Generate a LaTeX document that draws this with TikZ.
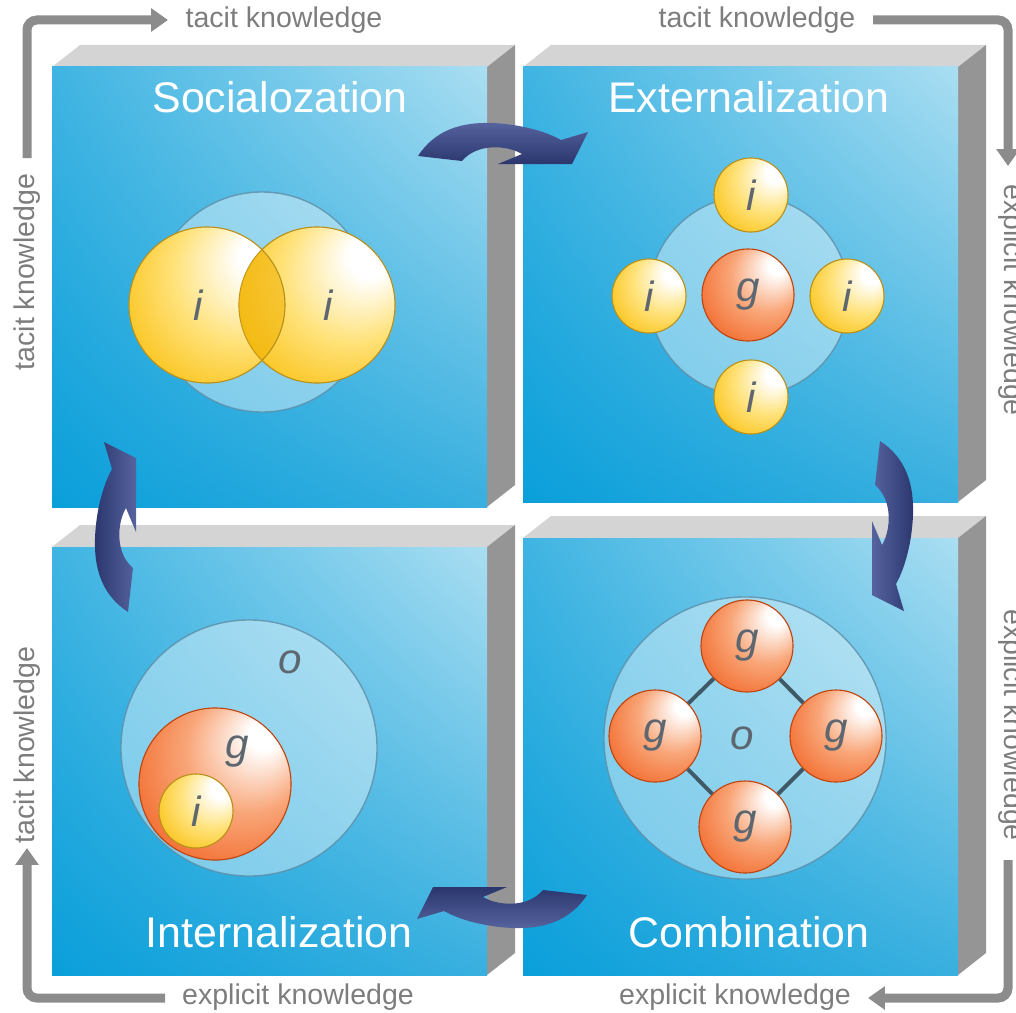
\documentclass[tikz,border=0pt]{standalone}
\usepackage{fontspec}
\setmainfont{Liberation Sans}
\usetikzlibrary{arrows.meta,shadings}

% Colours
\definecolor{faceLL}{HTML}{0A9FDA}
\definecolor{faceUL}{HTML}{3FB4E2}
\definecolor{faceLR}{HTML}{38AFDF}
\definecolor{faceUR}{HTML}{AADEF2}
\definecolor{topface}{HTML}{D4D4D4}
\definecolor{sideface}{HTML}{959595}
\definecolor{flowlight}{HTML}{56639E}
\definecolor{flowdark}{HTML}{2B366D}
\definecolor{axisgray}{HTML}{8C8C8C}
\definecolor{labelgray}{HTML}{7D7D7D}
\definecolor{lettergray}{HTML}{5E6770}
\definecolor{ringline}{HTML}{5D8DA6}
\definecolor{linkgray}{HTML}{3F5966}
\definecolor{ylwlight}{HTML}{FFE27A}
\definecolor{ylwmid}{HTML}{FAC31A}
\definecolor{ylwedge}{HTML}{F0B000}
\definecolor{ylwline}{HTML}{B8901C}
\definecolor{orglight}{HTML}{F9A77A}
\definecolor{orgmid}{HTML}{F26A2C}
\definecolor{orgedge}{HTML}{E5470A}
\definecolor{orgline}{HTML}{C0440E}

% Ball shadings, highlight up right
\pgfdeclareradialshading{yshade}{\pgfpoint{20bp}{18bp}}{color(0bp)=(white); color(7bp)=(white); color(22bp)=(ylwlight); color(36bp)=(ylwmid); color(50bp)=(ylwedge)}
\pgfdeclareradialshading{gshade}{\pgfpoint{18bp}{18bp}}{color(0bp)=(white); color(5bp)=(white); color(20bp)=(orglight); color(36bp)=(orgmid); color(50bp)=(orgedge)}

\newcommand{\lettr}{\fontsize{30}{36}\selectfont\itshape}

% box: front face corners x1,y1,x2,y2
\newcommand{\qbox}[4]{%
	\fill[topface] (#1,#2) -- (#1+28,#2-22) -- (#3+28,#2-22) -- (#3,#2) -- cycle;
	\fill[sideface] (#3,#2) -- (#3+28,#2-22) -- (#3+28,#4-22) -- (#3,#4) -- cycle;
	\shade[lower left=faceLL, upper left=faceUL, lower right=faceLR, upper right=faceUR] (#1,#2) rectangle (#3,#4);
}

% curved arrow: centre, rotation, shading angle
\newcommand{\flowarrow}[3]{%
	\shade[top color=flowlight, bottom color=flowdark, shading angle=#3, shift={#1}, rotate=#2]
	(-84,13) .. controls (-67,-13) and (-41,-21) .. (-10,-20)
	.. controls (15,-19) and (41,-13) .. (59,-3) -- (86,-11) -- (70,21) -- (-4,21) -- (20,11)
	.. controls (5,2) and (-25,0) .. (-40,18) -- cycle;
}

\begin{document}
\begin{tikzpicture}[x=0.025cm,y=-0.025cm,>=Latex,
	title/.style={text=white, font=\fontsize{30.5}{36}\selectfont, anchor=base},
	axislabel/.style={text=labelgray, font=\fontsize{20.3}{24}\selectfont},
	axisline/.style={draw=axisgray, line width=6.4pt, rounded corners=7pt, -{Triangle[length=12pt,width=16pt]}},
	ring/.style={circle, inner sep=0pt, fill=white, fill opacity=.4, draw=ringline, draw opacity=.8, line width=1pt},
	ball/.style={circle, inner sep=0pt, shade, text=lettergray, font=\lettr, line width=.8pt},
	yball/.style={ball, draw=ylwline, shading=yshade},
	gball/.style={ball, draw=orgline, shading=gshade},
	lettr/.style={text=lettergray, font=\lettr},
	link/.style={draw=linkgray, line width=2.8pt}]

\useasboundingbox (0,0) rectangle (1016,1012);

% Boxes
\qbox{52}{67}{487}{507}
\qbox{523}{67}{958}{502}
\qbox{52}{547}{487}{975}
\qbox{523}{538}{958}{975}

% Titles
\node[title] (socT) at (280,112) {Socialozation};
\node[title] (extT) at (749,112) {Externalization};
\node[title] (intT) at (279,947) {Internalization};
\node[title] (comT) at (749,947) {Combination};

% Socialization
\node[ring, minimum size=5.5cm] (socO) at (262,302) {};
\node[yball, minimum size=3.9cm] (socI1) at (207,305) {};
\node[yball, minimum size=3.9cm] (socI2) at (317,305) {};
% overlap of the two i
\begin{scope}
	\clip (socI2.center) circle (78);
	\fill[ylwedge, opacity=.55] (socI1.center) circle (78);
	\draw[ylwline, line width=.8pt] (socI1.center) circle (78);
\end{scope}
\node[lettr] (socL1) at (198,305) {i};
\node[lettr] (socL2) at (328,305) {i};

% Externalization
\node[ring, minimum size=5cm] (extO) at (749,296) {};
\node[gball, minimum size=2.3cm] (extG) at (748,295) {g};
\foreach \n/\dx/\dy in {t/2/-101, l/-100/0, r/98/0, b/2/101}{
	\node[yball, minimum size=1.85cm] (extI\n) at ({749+\dx},{296+\dy}) {i};
}

% Internalization
\node[ring, minimum size=6.4cm] (intO) at (249,748) {};
\node[gball, minimum size=3.8cm] (intG) at (215,784) {};
\node[yball, minimum size=1.85cm] (intI) at (196,811) {i};
\node[lettr] (intLo) at (290,662) {o};
\node[lettr] (intLg) at (237,752) {g};

% Combination
\node[ring, minimum size=7.05cm] (comO) at (745,738) {};
\node[lettr] (comLo) at (742,738) {o};
\foreach \n/\dx/\dy in {t/2/-91, l/-90/-1, r/91/-1, b/0/90}{
	\node[gball, minimum size=2.3cm] (comG\n) at ({745+\dx},{737+\dy}) {g};
}
\foreach \a/\b in {t/r, r/b, b/l, l/t}{
	\draw[link] (comG\a) -- (comG\b);
}

% Axis arrows
\coordinate (ax1s) at (27,158);  \coordinate (ax1e) at (168,20);
\coordinate (ax2s) at (873,20);  \coordinate (ax2e) at (1008,166);
\coordinate (ax3s) at (1008,860); \coordinate (ax3e) at (868,998);
\coordinate (ax4s) at (165,998); \coordinate (ax4e) at (27,848);
\draw[axisline] (ax1s) |- (ax1e);
\draw[axisline] (ax2s) -| (ax2e);
\draw[axisline] (ax3s) |- (ax3e);
\draw[axisline] (ax4s) -| (ax4e);

\node[axislabel, anchor=base] (tkTop1) at (284,28) {tacit knowledge};
\node[axislabel, anchor=base] (tkTop2) at (757,28) {tacit knowledge};
\node[axislabel, anchor=base] (ekBot1) at (298,1004) {explicit knowledge};
\node[axislabel, anchor=base] (ekBot2) at (735,1004) {explicit knowledge};
\node[axislabel, rotate=90] (tkLeft1) at (27,272) {tacit knowledge};
\node[axislabel, rotate=90] (tkLeft2) at (27,745) {tacit knowledge};
\node[axislabel, rotate=-90] (ekRight1) at (1012,300) {explicit knowledge};
\node[axislabel, rotate=-90] (ekRight2) at (1012,725) {explicit knowledge};

% Curved arrows between the boxes
\flowarrow{(502,143)}{0}{0}
\flowarrow{(893,525)}{-90}{90}
\flowarrow{(503,908)}{180}{-180}
\flowarrow{(115,528)}{90}{-90}

\end{tikzpicture}
\end{document}
